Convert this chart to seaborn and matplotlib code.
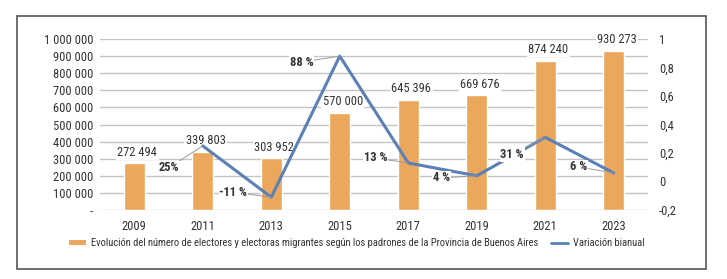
import numpy as np
import pandas as pd
import matplotlib
matplotlib.use("Agg")
import matplotlib.pyplot as plt
import seaborn as sns
from matplotlib.patches import Rectangle, Patch
from matplotlib.lines import Line2D
from matplotlib.ticker import FuncFormatter

years = ["2009", "2011", "2013", "2015", "2017", "2019", "2021", "2023"]
electors = [272494, 339803, 303952, 570000, 645396, 669676, 874240, 930273]
variation = [np.nan, 0.25, -0.11, 0.88, 0.13, 0.04, 0.31, 0.06]
variation_labels = ["", "25%", "-11 %", "88 %", "13 %", "4 %", "31 %", "6 %"]
left_ticks = [0, 100000, 200000, 300000, 400000, 500000, 600000, 700000, 800000, 900000, 1000000]
right_ticks = [-0.2, 0, 0.2, 0.4, 0.6, 0.8, 1.0]
bar_label = "Evolución del número de electores y electoras migrantes según los padrones de la Provincia de Buenos Aires"
line_label = "Variación bianual"

# label offsets in pixels (style only)
pct_offsets = [(0, 0), (-34, -22), (-38, 5), (-38, -6), (-33, 5), (-35, -2), (-33, -17), (-35, 6)]

sns.set_theme(style="white")
plt.rcParams['font.family'] = ['Roboto Condensed', 'DejaVu Sans']

BAR = "#EBA75C"
LINE = "#5B80B8"
GRID = "#C4C4C4"
TXT = "#333333"

fig = plt.figure(figsize=(7.27, 2.79), dpi=100)
fig.patch.set_facecolor("white")
ax = fig.add_axes([100/727, 1-210/279, 548/727, 171/279])

df = pd.DataFrame({"year": years, "electors": electors})
sns.barplot(data=df, x="year", y="electors", color=BAR, saturation=1, width=0.31, ax=ax, zorder=2)
ax.set_xlim(-0.5, len(years) - 0.5)
ax.set_ylim(0, 1000000)
ax.set_yticks(left_ticks)
ax.yaxis.set_major_formatter(FuncFormatter(lambda v, p: "-" if v == 0 else f"{int(v):,}".replace(",", " ")))
ax.grid(axis="y", color=GRID, lw=1.0)
ax.set_axisbelow(True)
for s in ax.spines.values():
    s.set_visible(False)
ax.set_xlabel("")
ax.set_ylabel("")
ax.tick_params(axis="both", length=0, labelsize=9, colors=TXT)
ax.tick_params(axis="x", pad=7)
ax.tick_params(axis="y", pad=5)

for i, v in enumerate(electors):
    ax.annotate(f"{v:,}".replace(",", " "), xy=(i, v), xytext=(3, 11), textcoords="offset pixels",
                ha="center", va="center", fontsize=9, color=TXT, zorder=5,
                bbox=dict(facecolor="white", edgecolor="none", pad=1.0))

ax2 = ax.twinx()
x_pos = np.arange(len(years))
sns.lineplot(x=x_pos, y=variation, ax=ax2, color=LINE, lw=2.2)
ax2.set_ylim(-0.2, 1.0)
ax2.set_yticks(right_ticks)
ax2.yaxis.set_major_formatter(FuncFormatter(lambda v, p: ("%g" % round(v, 1)).replace(".", ",")))
ax2.tick_params(axis="y", length=0, labelsize=9, colors=TXT, pad=8)
for s in ax2.spines.values():
    s.set_visible(False)
ax2.set_ylabel("")
ax2.grid(False)

for i, (v, lab) in enumerate(zip(variation, variation_labels)):
    if not lab:
        continue
    dx, dy = pct_offsets[i]
    ax2.annotate(lab, xy=(i, v), xytext=(dx, dy), textcoords="offset pixels",
                 ha="center", va="center", fontsize=9, fontweight="bold", color=TXT, zorder=6,
                 bbox=dict(facecolor="white", edgecolor="none", pad=0.5),
                 arrowprops=dict(arrowstyle="-", color="#9a9a9a", lw=0.7, shrinkA=0, shrinkB=0))

handles = [Patch(facecolor=BAR, edgecolor="none"), Line2D([0], [0], color=LINE, lw=2)]
fig.legend(handles, [bar_label, line_label], loc="center", bbox_to_anchor=(357/727, 1-243/279),
           ncol=2, frameon=False, fontsize=7.6, handlelength=1.6, handleheight=0.35,
           handletextpad=0.5, columnspacing=1.2, labelcolor=TXT)

fig.patches.append(Rectangle((17/727, 1-269/279), (706-17)/727, (269-16)/279, transform=fig.transFigure,
                             fill=False, edgecolor="#555555", lw=1.2, zorder=0))

fig.savefig("out.png", dpi=100)
